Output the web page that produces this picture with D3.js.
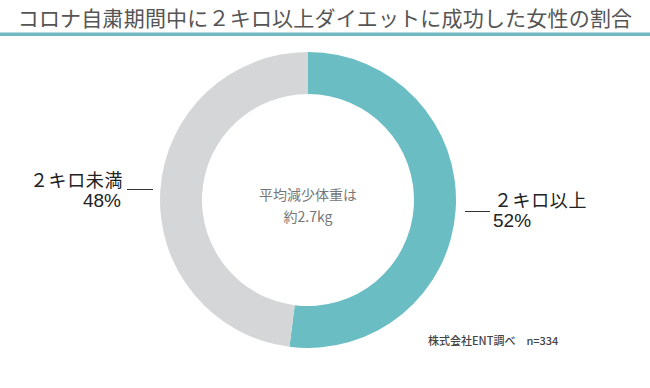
<!DOCTYPE html>
<html>
<head>
<meta charset="utf-8">
<script src="https://cdn.jsdelivr.net/npm/d3@7"></script>
<style>
  body { margin: 0; background: #fff; }
  svg text { font-family: "Noto Sans CJK JP", "Noto Sans", sans-serif; }
</style>
</head>
<body>
<svg id="chart" width="650" height="388"></svg>
<script>
// data
var categories = ["２キロ以上", "２キロ未満"];
var values = [52, 48];
var colors = ["#6bbdc4", "#d5d6d8"];
var titleText = "コロナ自粛期間中に２キロ以上ダイエットに成功した女性の割合";
var centerLines = ["平均減少体重は", "約2.7kg"];
var sourceText = "株式会社ENT調べ　n=334";

var svg = d3.select("#chart");
var W = 650, H = 388;

// title + underline
svg.append("text")
    .attr("x", W / 2)
    .attr("y", 26)
    .attr("text-anchor", "middle")
    .attr("fill", "#555")
    .style("font-size", "21px")
    .style("letter-spacing", "0.2px")
    .text(titleText);

svg.append("rect")
    .attr("x", 0).attr("y", 32.5)
    .attr("width", W).attr("height", 3.5)
    .attr("fill", "#72b8c3");

// donut
var cx = 308, cy = 200;
var outerR = 148, innerR = 106;

var pie = d3.pie().sort(null).value(function(d) { return d; });
var arc = d3.arc().innerRadius(innerR).outerRadius(outerR);

var g = svg.append("g").attr("transform", "translate(" + cx + "," + cy + ")");

g.selectAll("path")
    .data(pie(values))
    .enter()
    .append("path")
    .attr("d", arc)
    .attr("fill", function(d, i) { return colors[i]; });

// center text
g.selectAll("text.center")
    .data(centerLines)
    .enter()
    .append("text")
    .attr("class", "center")
    .attr("x", 0)
    .attr("y", function(d, i) { return i == 0 ? 0 : 22; })
    .attr("text-anchor", "middle")
    .attr("fill", "#777")
    .style("font-size", "14px")
    .text(function(d) { return d; });

// side labels (index 0 right, index 1 left)
var labelPos = [
    {lx1: 465, lx2: 490, ly: 211.5, tx: 494, ty: 207, px: 493, py: 227, anchor: "start"},
    {lx1: 127, lx2: 153, ly: 189.5, tx: 123, ty: 187, px: 121, py: 207, anchor: "end"}
];

categories.forEach(function(c, i) {
    var p = labelPos[i];
    svg.append("line")
        .attr("x1", p.lx1).attr("x2", p.lx2)
        .attr("y1", p.ly).attr("y2", p.ly)
        .attr("stroke", "#333")
        .attr("stroke-width", 1);
    svg.append("text")
        .attr("x", p.tx).attr("y", p.ty)
        .attr("text-anchor", p.anchor)
        .attr("fill", "#222")
        .style("font-size", "18px")
        .style("letter-spacing", "0.6px")
        .text(c);
    svg.append("text")
        .attr("x", p.px).attr("y", p.py)
        .attr("text-anchor", p.anchor)
        .attr("fill", "#222")
        .style("font-family", "'Liberation Sans', sans-serif")
        .style("font-size", "19px")
        .text(values[i] + "%");
});

// source note
svg.append("text")
    .attr("x", 428)
    .attr("y", 345)
    .attr("fill", "#444")
    .style("font-size", "11px")
    .style("font-weight", 500)
    .text(sourceText);
</script>
</body>
</html>
